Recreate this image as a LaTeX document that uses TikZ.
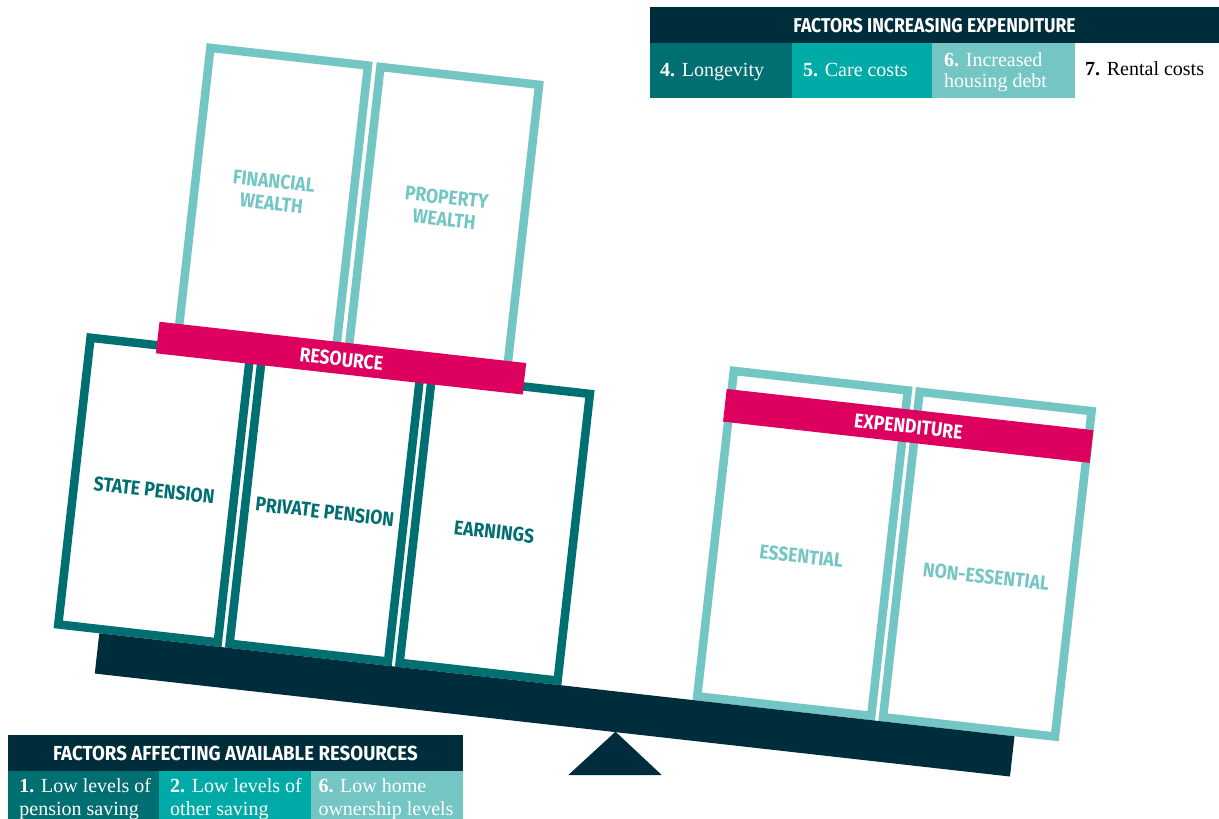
\documentclass[tikz,border=0pt]{standalone}
\usepackage{fontspec}
\setmainfont{Liberation Serif}
\newfontfamily\labfont{Fira Sans}[FakeStretch=0.88]
\newfontfamily\labwfont{Fira Sans}[FakeStretch=0.92]
\definecolor{navy}{HTML}{002D3B}
\definecolor{dteal}{HTML}{006F72}
\definecolor{mteal}{HTML}{00ABA7}
\definecolor{lteal}{HTML}{73C6C4}
\definecolor{magenta}{HTML}{DE005F}
\begin{document}
\begin{tikzpicture}[x=1pt,y=-1pt,
  dbox/.style={draw=dteal, fill=white, line width=8.5pt},
  lbox/.style={draw=lteal, fill=white, line width=8.5pt},
  lab/.style={font=\labfont\bfseries\fontsize{20}{22}\selectfont, align=center, inner sep=0pt},
  ser/.style={font=\fontsize{20}{22}\selectfont, anchor=base west, inner sep=0pt, text=white},
  hdr/.style={font=\labfont\bfseries\fontsize{20}{21}\selectfont, inner sep=0pt, text=white}]
\useasboundingbox (0,0) rectangle (1219,819);

% ---- tilted scale ----
\begin{scope}[shift={(99.3,633.3)}, rotate=-6.42, transform shape]
  % upper light boxes
  \draw[lbox] (44.95,-594.25) rectangle (203.55,-301.25);
  \draw[lbox] (216.05,-594.25) rectangle (375.75,-301.25);
  % lower resource boxes
  \draw[dbox] (-41.75,-292.75) rectangle (118.75,-4.25);
  \draw[dbox] (130.65,-292.75) rectangle (290.05,-4.25);
  \draw[dbox] (301.75,-292.75) rectangle (460.75,-4.25);
  % expenditure boxes
  \draw[lbox] (601.25,-331.75) rectangle (776.35,-4.25);
  \draw[lbox] (788.25,-331.75) rectangle (961.25,-4.25);
  % beam
  \fill[navy] (0,0) rectangle (921,40.5);
  % bands
  \fill[magenta] (25,-316.3) rectangle (394,-284.6);
  \fill[magenta] (596.2,-313) rectangle (965.2,-280.1);
  % labels
  \node[lab, text=white] (resource) at (210,-299.5) {RESOURCE};
  \node[lab, text=white] (expenditure) at (781,-296) {EXPENDITURE};
  \node[lab, text=dteal] (state) at (38.5,-148.5) {STATE PENSION};
  \node[lab, text=dteal] (private) at (210.5,-146) {PRIVATE PENSION};
  \node[lab, text=dteal] (earnings) at (381,-145) {EARNINGS};
  \node[lab, text=lteal] (financial) at (123,-458) {FINANCIAL\\WEALTH};
  \node[lab, text=lteal] (property) at (296.5,-461) {PROPERTY\\WEALTH};
  \node[lab, text=lteal] (essential) at (689,-155) {ESSENTIAL};
  \node[lab, text=lteal] (nonessential) at (875,-155.5) {NON-ESSENTIAL};
\end{scope}

% fulcrum
\fill[navy] (615.5,731.7) -- (661.7,775) -- (568.3,775) -- cycle;

% ---- top legend ----
\fill[navy] (650,7.3) rectangle (1219,43.3);
\node[hdr] (tophdr) at (934.5,25.3) {FACTORS INCREASING EXPENDITURE};
\fill[dteal] (650,43.3) rectangle (792,97.7);
\fill[mteal] (792,43.3) rectangle (932,97.7);
\fill[lteal] (932,43.3) rectangle (1075,97.7);
\node[ser] (f4) at (660,76.5) {{\bfseries 4.} Longevity};
\node[ser] (f5) at (803,76.5) {{\bfseries 5.} Care costs};
\node[ser] (f6a) at (944,66.7) {{\bfseries 6.} Increased};
\node[ser] (f6b) at (944,87.7) {housing debt};
\node[ser, text=black] (f7) at (1085,75.7) {{\bfseries 7.} Rental costs};

% ---- bottom legend ----
\fill[navy] (8,735) rectangle (462.7,770.7);
\node[hdr, font=\labwfont\bfseries\fontsize{20.3}{21}\selectfont] (bothdr) at (235.4,753) {FACTORS AFFECTING AVAILABLE RESOURCES};
\fill[dteal] (8,770.7) rectangle (159,819);
\fill[mteal] (159,770.7) rectangle (311,819);
\fill[lteal] (311,770.7) rectangle (462.7,819);
\node[ser] (f1a) at (19.3,792.7) {{\bfseries 1.} Low levels of};
\node[ser] (f1b) at (19.3,815) {pension saving};
\node[ser] (f2a) at (170,792.7) {{\bfseries 2.} Low levels of};
\node[ser] (f2b) at (170,815) {other saving};
\node[ser] (f3a) at (318.3,792.7) {{\bfseries 6.} Low home};
\node[ser] (f3b) at (318.3,815) {ownership levels};
\end{tikzpicture}
\end{document}
